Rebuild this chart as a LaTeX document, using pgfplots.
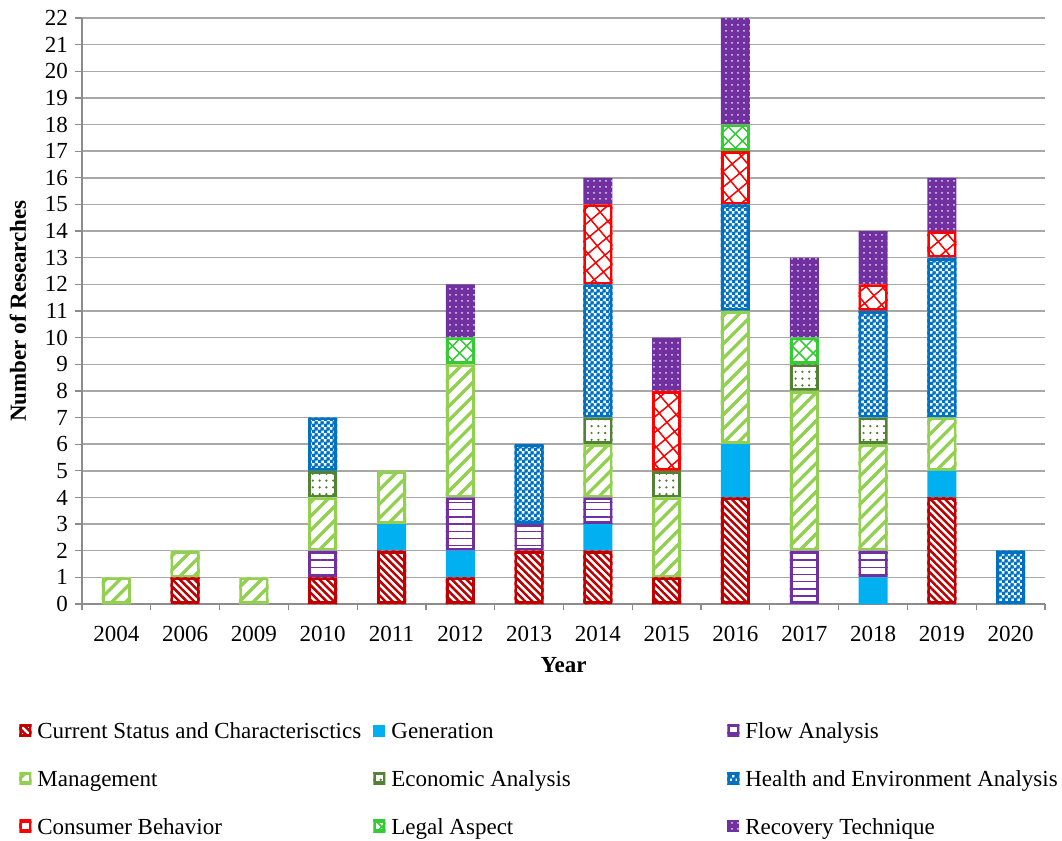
\documentclass[border=0pt]{standalone}
\usepackage{fontspec}
\setmainfont{Liberation Serif}
\usepackage{pgfplots}
\pgfplotsset{compat=1.18}
\usepackage{pgfplotstable}
\usetikzlibrary{patterns,patterns.meta}

\definecolor{csred}{HTML}{C00000}
\definecolor{genblue}{HTML}{00B0F0}
\definecolor{flowpurple}{HTML}{7030A0}
\definecolor{mgmtgreen}{HTML}{92D050}
\definecolor{econgreen}{HTML}{548235}
\definecolor{healthblue}{HTML}{0070C0}
\definecolor{consred}{HTML}{FF0000}
\definecolor{legalgreen}{HTML}{33CC33}
\definecolor{recpurple}{HTML}{7030A0}
\definecolor{gridgray}{HTML}{A8A8A8}
\definecolor{axisgray}{HTML}{8C8C8C}

% small checkerboard for the health bars
\tikzdeclarepattern{
  name=checks,
  type=uncolored,
  bounding box={(0pt,0pt) and (3pt,3pt)},
  tile size={(3pt,3pt)},
  code={
    \pgfpathrectangle{\pgfpointorigin}{\pgfpoint{1.8pt}{1.8pt}}
    \pgfpathrectangle{\pgfpoint{1.5pt}{1.5pt}}{\pgfpoint{1.8pt}{1.8pt}}
    \pgfusepath{fill}
  }
}

% border drawn inside the bar only (stroke of the bar path, clipped to it),
% so the zero-height segments of the stack leave no line
\makeatletter
\tikzset{
  inner border/.style={path picture={%
    \pgfsyssoftpath@setcurrentpath\tikz@actions@path
    \pgfsetlinewidth{2.8pt}%
    \pgfsetstrokecolor{#1}%
    \pgfusepath{stroke}}},
}
\makeatother

\pgfplotsset{
  seg/.style 2 args={fill=white, draw=none,
    postaction={pattern={#2}, pattern color=#1,
      postaction={inner border=#1}}},
}

% columns: current status, generation, flow analysis, management, economic,
% health & environment, consumer behaviour, legal aspect, recovery technique
\pgfplotstableread{
x cs gen flow mgmt econ health cons legal rec
0  0 0 0 1 0 0 0 0 0
1  1 0 0 1 0 0 0 0 0
2  0 0 0 1 0 0 0 0 0
3  1 0 1 2 1 2 0 0 0
4  2 1 0 2 0 0 0 0 0
5  1 1 2 5 0 0 0 1 2
6  2 0 1 0 0 3 0 0 0
7  2 1 1 2 1 5 3 0 1
8  1 0 0 3 1 0 3 0 2
9  4 2 0 5 0 4 2 1 4
10 0 0 2 6 1 0 0 1 3
11 0 1 1 4 1 4 1 0 2
12 4 1 0 2 0 6 1 0 2
13 0 0 0 0 0 2 0 0 0
}\datatable

\newcommand{\entry}[1]{\makebox[168pt][l]{\strut\kern1.5pt #1}}
\newcommand{\lastentry}[1]{\strut\kern1.5pt #1}

\begin{document}
\begin{tikzpicture}
\begin{axis}[
    scale only axis,
    width=481.5pt, height=293pt,
    font=\fontsize{11.5}{13.8}\selectfont,
    /pgf/number format/assume math mode=true,
    ybar stacked,
    bar width=14.5pt,
    xmin=-0.5, xmax=13.5,
    ymin=0, ymax=22,
    xtick={0,...,13},
    xticklabels={2004,2006,2009,2010,2011,2012,2013,2014,2015,2016,2017,2018,2019,2020},
    xticklabel style={yshift=-4pt},
    minor xtick={-0.5,0.5,...,13.5},
    major x tick style={draw=none},
    ytick={0,...,22},
    tick align=outside,
    major tick length=3.5pt,
    minor tick length=3pt,
    tick style={color=axisgray, line width=0.6pt},
    axis x line*=bottom,
    axis y line*=left,
    axis line style={color=axisgray, line width=0.6pt},
    ymajorgrids,
    grid style={color=gridgray, line width=0.7pt},
    xlabel={\textbf{Year}},
    ylabel={\textbf{Number of Researches}},
    xlabel style={at={(axis description cs:0.5,0)}, anchor=center, yshift=-30.5pt},
    ylabel style={at={(axis description cs:0,0.5)}, anchor=center, yshift=32pt},
    legend columns=3,
    legend cell align=left,
    legend image code/.code={\path[#1] (0pt,-3pt) rectangle (6pt,3pt);},
    legend style={
        draw=none, fill=none, inner sep=0pt,
        at={(axis description cs:0,0)}, anchor=north west,
        xshift=-31.5pt, yshift=-56pt,
        row sep=9.7pt,
        nodes={inner sep=1.5pt},
    },
]
\addplot[seg={csred}{Lines[angle=-45,distance=2.6pt,line width=1.1pt]}]
    table[x=x, y=cs]{\datatable};
\addlegendentry{\entry{Current Status and Characterisctics}}
\addplot[fill=genblue, draw=none]
    table[x=x, y=gen]{\datatable};
\addlegendentry{\entry{Generation}}
\addplot[seg={flowpurple}{Lines[angle=0,distance=3.6pt,line width=0.7pt]}]
    table[x=x, y=flow]{\datatable};
\addlegendentry{\lastentry{Flow Analysis}}
\addplot[seg={mgmtgreen}{Lines[angle=45,distance=5pt,line width=1.5pt]}]
    table[x=x, y=mgmt]{\datatable};
\addlegendentry{\entry{Management}}
\addplot[seg={econgreen}{Dots[distance=3.4pt,radius=0.55pt]}]
    table[x=x, y=econ]{\datatable};
\addlegendentry{\entry{Economic Analysis}}
\addplot[seg={healthblue}{checks}]
    table[x=x, y=health]{\datatable};
\addlegendentry{\lastentry{Health and Environment Analysis}}
\addplot[seg={consred}{Hatch[angle=40,distance=6pt,line width=0.6pt]}]
    table[x=x, y=cons]{\datatable};
\addlegendentry{\entry{Consumer Behavior}}
\addplot[seg={legalgreen}{Hatch[angle=45,distance=5pt,line width=0.6pt]}]
    table[x=x, y=legal]{\datatable};
\addlegendentry{\entry{Legal Aspect}}
\addplot[fill=recpurple, draw=none,
    postaction={pattern={Dots[distance=3pt,radius=0.5pt]}, pattern color=white!80!recpurple}]
    table[x=x, y=rec]{\datatable};
\addlegendentry{\lastentry{Recovery Technique}}
\end{axis}
\pgfresetboundingbox
\path (current axis.south west) ++(-41pt,-118.5pt) rectangle ++(531pt,420.5pt);
\end{tikzpicture}
\end{document}
